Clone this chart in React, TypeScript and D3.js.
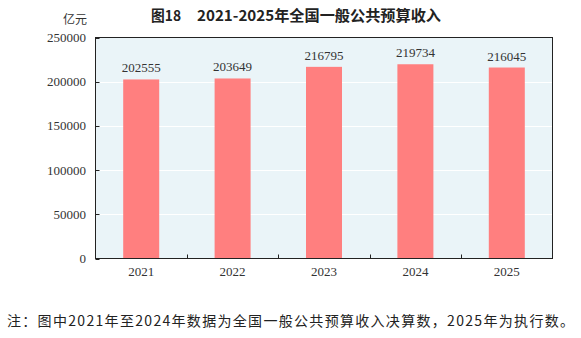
import React from "react";
import * as d3 from "d3";

const categories = ["2021", "2022", "2023", "2024", "2025"];
const values = [202555, 203649, 216795, 219734, 216045];
const yTicks = [0, 50000, 100000, 150000, 200000, 250000];
const titleNo = "图18";
const title = "2021-2025年全国一般公共预算收入";
const unit = "亿元";
const note = "注：图中2021年至2024年数据为全国一般公共预算收入决算数，2025年为执行数。";

export default function App() {
  const W = 581, H = 338;
  const left = 95.5, right = 552.5, top = 37.5, bottom = 258.5;
  const xb = d3.scaleBand().domain(categories).range([left, right]);
  const y = d3.scaleLinear().domain([0, 250000]).range([bottom, top]);
  const serif = "'Liberation Serif', 'DejaVu Serif', serif";
  const sans = "'Noto Sans CJK SC', sans-serif";
  return (
    <svg width={W} height={H} style={{ position: "absolute", left: 0, top: 0, background: "#fff" }}>
      <text x={151} y={21} fontFamily={sans} fontSize={15} fontWeight="bold" fill="#222" textLength={30} lengthAdjust="spacingAndGlyphs">{titleNo}</text>
      <text x={197} y={21} fontFamily={sans} fontSize={15} fontWeight="bold" fill="#222" textLength={244} lengthAdjust="spacingAndGlyphs">{title}</text>
      <text x={75} y={24} textAnchor="middle" fontFamily={sans} fontSize={12} fill="#333">{unit}</text>
      <rect x={left} y={top} width={right - left} height={bottom - top} fill="#eaf4f8" />
      {yTicks.slice(1, -1).map(t => (
        <line key={t} x1={left} x2={right} y1={Math.round(y(t)) + 0.5} y2={Math.round(y(t)) + 0.5} stroke="#fff" strokeWidth={1} />
      ))}
      {values.map((v, i) => (
        <rect key={i} x={xb(categories[i])! + xb.bandwidth() / 2 - 18} width={36} y={y(v)} height={bottom - y(v)} fill="#ff7f7f" />
      ))}
      {values.map((v, i) => (
        <text key={"l" + i} x={xb(categories[i])! + xb.bandwidth() / 2} y={y(v) - 7} textAnchor="middle" fontFamily={serif} fontSize={13} fill="#333">{v}</text>
      ))}
      <rect x={left} y={top} width={right - left} height={bottom - top} fill="none" stroke="#222" strokeWidth={1} />
      {yTicks.map(t => (
        <g key={"y" + t}>
          <line x1={left} x2={left + 4} y1={Math.round(y(t)) + 0.5} y2={Math.round(y(t)) + 0.5} stroke="#222" />
          <text x={86} y={y(t) + 4.5} textAnchor="end" fontFamily={serif} fontSize={13} fill="#333">{t}</text>
        </g>
      ))}
      {categories.slice(1).map(c => (
        <line key={"t" + c} x1={Math.round(xb(c)!) + 0.5} x2={Math.round(xb(c)!) + 0.5} y1={bottom} y2={bottom - 4} stroke="#222" />
      ))}
      {categories.map(c => (
        <text key={"x" + c} x={xb(c)! + xb.bandwidth() / 2} y={276} textAnchor="middle" fontFamily={serif} fontSize={13} fill="#333">{c}</text>
      ))}
      <text x={7} y={326} fontFamily={sans} fontSize={14} fill="#222" textLength={567} lengthAdjust="spacing">{note}</text>
    </svg>
  );
}
